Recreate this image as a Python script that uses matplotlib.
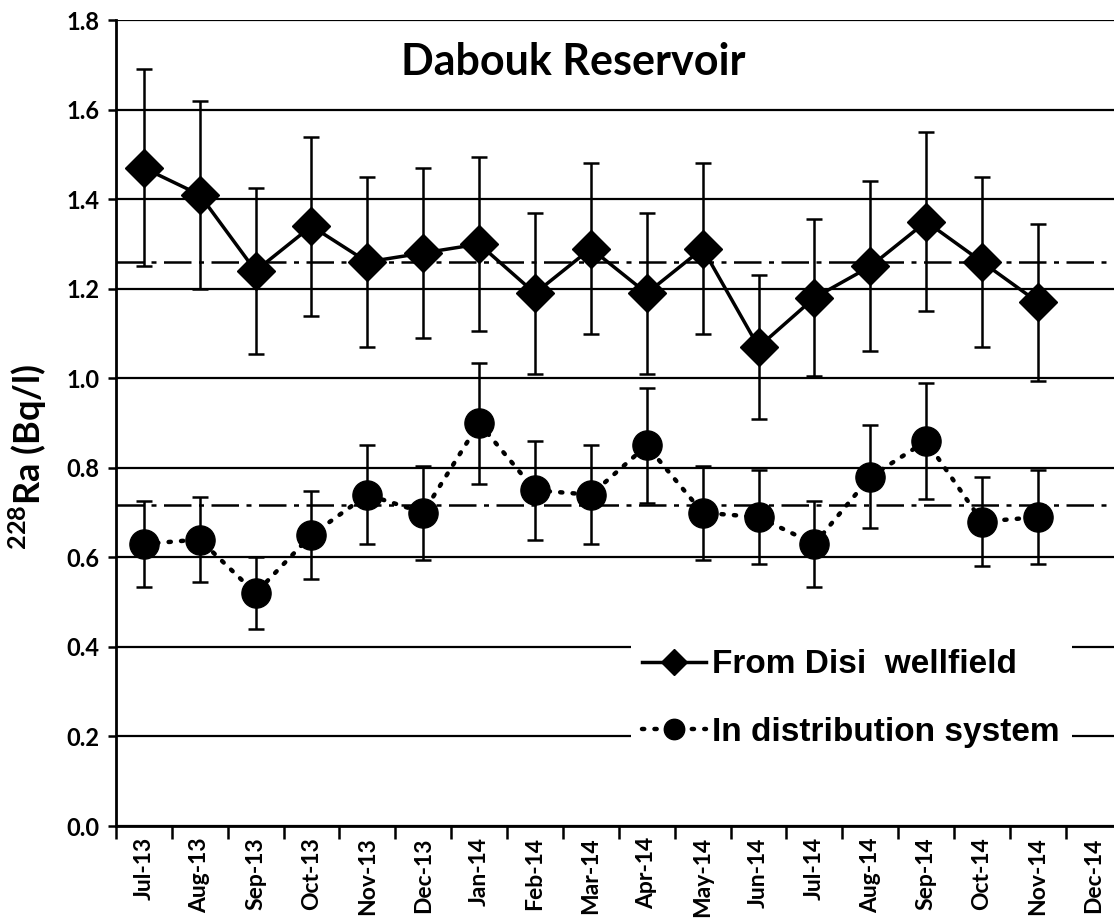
import numpy as np
import matplotlib
matplotlib.use("Agg")
import matplotlib.pyplot as plt

# monthly 228Ra readings, Bq/l
months = ["Jul-13", "Aug-13", "Sep-13", "Oct-13", "Nov-13", "Dec-13",
          "Jan-14", "Feb-14", "Mar-14", "Apr-14", "May-14", "Jun-14",
          "Jul-14", "Aug-14", "Sep-14", "Oct-14", "Nov-14", "Dec-14"]

disi = [1.47, 1.41, 1.24, 1.34, 1.26, 1.28, 1.30, 1.19, 1.29, 1.19,
        1.29, 1.07, 1.18, 1.25, 1.35, 1.26, 1.17]
disi_err = [0.22, 0.21, 0.185, 0.20, 0.19, 0.19, 0.195, 0.18, 0.19, 0.18,
            0.19, 0.16, 0.175, 0.19, 0.20, 0.19, 0.175]

dist = [0.63, 0.64, 0.52, 0.65, 0.74, 0.70, 0.90, 0.75, 0.74, 0.85,
        0.70, 0.69, 0.63, 0.78, 0.86, 0.68, 0.69]
dist_err = [0.095, 0.095, 0.08, 0.098, 0.11, 0.105, 0.135, 0.11, 0.11, 0.128,
            0.105, 0.105, 0.095, 0.115, 0.13, 0.10, 0.105]

disi_mean = 1.26
dist_mean = 0.716

yticks = [0.0, 0.2, 0.4, 0.6, 0.8, 1.0, 1.2, 1.4, 1.6, 1.8]

calibri_like = "Lato"
plt.rcParams["mathtext.fontset"] = "custom"
plt.rcParams["mathtext.rm"] = calibri_like
plt.rcParams["mathtext.bf"] = calibri_like + ":bold"

fig = plt.figure(figsize=(11.14, 9.22), dpi=100)
ax = fig.add_axes([0.104, 0.1041, 0.903, 0.874])

x = np.arange(len(disi))

# error bars first, lines + markers on top
ax.errorbar(x, disi, yerr=disi_err, fmt="none", ecolor="black",
            elinewidth=1.8, capsize=6, capthick=1.8, zorder=3)
ax.errorbar(x, dist, yerr=dist_err, fmt="none", ecolor="black",
            elinewidth=1.8, capsize=6, capthick=1.8, zorder=3)

ax.plot(x, disi, color="black", lw=2.5, marker="D", ms=19,
        label="From Disi  wellfield", zorder=4)
ax.plot(x, dist, color="black", lw=3.2, linestyle=(0, (0.5, 2.3)),
        dash_capstyle="round", marker="o", ms=21,
        label="In distribution system", zorder=4)

# average lines
for m in (disi_mean, dist_mean):
    ax.axhline(m, color="black", lw=1.8, linestyle=(0, (11, 3, 2, 3)), zorder=6)

ax.set_xlim(-0.5, len(months) - 0.5)
ax.set_ylim(0, 1.8)
ax.set_yticks(yticks)
ax.set_yticklabels([f"{v:.1f}" for v in yticks], fontfamily=calibri_like,
                   fontweight="bold", fontsize=17)
ax.yaxis.grid(True, color="black", lw=1.6)
ax.set_axisbelow(True)

ax.set_xticks(np.arange(len(months)))
ax.set_xticklabels(months, rotation=90, fontfamily=calibri_like,
                   fontweight="bold", fontsize=16.5)
ax.set_xticks(np.arange(len(months) + 1) - 0.5, minor=True)
ax.tick_params(axis="x", which="major", length=0, pad=8)
ax.tick_params(axis="x", which="minor", length=9, width=1.8, direction="out")
ax.tick_params(axis="y", length=6, width=1.8, direction="out", pad=6)

for s in ("top", "right"):
    ax.spines[s].set_visible(False)
for s in ("left", "bottom"):
    ax.spines[s].set_linewidth(2)

ax.set_ylabel(r"$^{\mathregular{228}}$Ra (Bq/l)", fontfamily=calibri_like,
              fontweight="bold", fontsize=26)
ax.yaxis.set_label_coords(-0.066, 0.458)

ax.text(0.455, 0.948, "Dabouk Reservoir", transform=ax.transAxes,
        ha="center", va="center", fontfamily=calibri_like,
        fontweight="bold", fontsize=31)

leg = ax.legend(loc="center", bbox_to_anchor=(0.731, 0.158),
                prop={"family": "Liberation Sans", "weight": "bold", "size": 24},
                frameon=True, facecolor="white", edgecolor="none",
                fancybox=False, framealpha=1, labelspacing=1.1,
                handlelength=1.9, handletextpad=0.2, borderpad=0.35,
                borderaxespad=0, markerscale=0.7)

fig.savefig("out.png", dpi=100)
